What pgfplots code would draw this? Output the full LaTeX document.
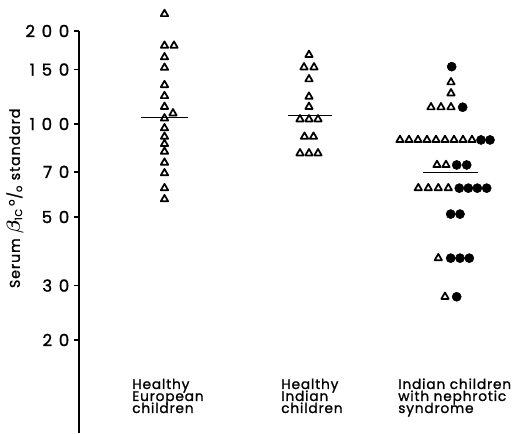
\documentclass[border=0pt]{standalone}
\usepackage{amsmath}
\usepackage{pgfplots}
\pgfplotsset{compat=1.18}
\usepackage{fontspec}
\setmainfont{Poppins}[FakeBold=1.3, LetterSpace=6]
\begin{document}
\begin{tikzpicture}[x=1pt,y=1pt]
\useasboundingbox (-59.25,-0.75) rectangle (335.25,324.75);
\begin{axis}[
  at={(0,0)}, anchor=south west,
  scale only axis, width=335.25pt, height=301.5pt,
  xmin=79, xmax=526, ymin=10, ymax=200,
  ymode=log,
  axis x line=none, axis y line=left,
  axis line style={-, line width=1.5pt},
  ytick={20,30,50,70,100,150,200},
  yticklabels={20,30,50,70,100,150,200},
  minor ytick={},
  tick align=outside, major tick length=3.75pt,
  tick style={line width=1.1pt, black},
  /pgf/number format/assume math mode=true,
  yticklabel style={font=\fontsize{12.5}{12.5}\selectfont\addfontfeature{LetterSpace=40}},
  clip=false,
  tri/.style={only marks, mark=triangle, mark size=3.2pt, black, line width=1.3pt, mark options={line join=round}},
  dot/.style={only marks, mark=*, mark size=3.4pt, black, mark options={fill=black, line width=0.4pt}},
]
% Healthy European children
\addplot[tri] coordinates {
(164.5,227) (164.5,179.3) (174,179.3) (164.5,164.5) (164.5,152.1) (164.5,133.7)
(164.5,123.2) (164.5,113.7) (173,108.3) (164.5,104.3) (164.5,96.9) (164.5,91.0)
(164.5,86.2) (164.5,81.4) (164.5,75.0) (164.5,69.3) (164.5,62.0) (164.5,57.1)};
\addplot[black, line width=1pt] coordinates {(141,104.8) (188,104.8)};
% Healthy Indian children
\addplot[tri] coordinates {
(309,167.3) (304,152.6) (314,152.6) (309,139.6) (309,122.6) (309,113.7)
(300,103.6) (309,103.6) (318,103.6) (304.5,91.0) (313.5,91.0)
(300,80.4) (309,80.4) (318,80.4)};
\addplot[black, line width=1pt] coordinates {(288,106.5) (332,106.5)};
% Indian children with nephrotic syndrome
\addplot[tri] coordinates {
(451,136.5) (451,125.7) (431,113.3) (441,113.3) (451,113.3)
(400,88.8) (409,88.8) (418,88.8) (427,88.8) (436,88.8) (445,88.8) (454,88.8) (463,88.8) (472,88.8)
(437,73.7) (446,73.7)
(418.3,62.0) (428.3,62.0) (438.3,62.0) (448.3,62.0)
(438.3,36.8) (445,27.6)};
\addplot[dot] coordinates {
(451.7,153.3) (462.7,113.3) (481,88.8) (490,88.8) (456.7,73.7) (466.7,73.7)
(459.3,62.0) (468.3,62.0) (477.3,62.0) (486.7,62.0)
(450.7,51.1) (460,51.1) (450.7,36.8) (460,36.8) (469.3,36.8) (456.7,27.6)};
\addplot[black, line width=1pt] coordinates {(423,69.8) (478,69.8)};
\end{axis}
\node[rotate=90, font=\fontsize{10.7}{10.7}\selectfont] at (-48,176) {Serum \scalebox{1.3}{$\boldsymbol{\beta}$}\textsubscript{1C}\,\textsuperscript{o}/\textsubscript{o} standard};
\begin{scope}[every node/.style={anchor=base west, inner sep=0pt, text height=6.5pt, text depth=1.5pt, font=\fontsize{10.3}{10.3}\selectfont}]
\node at (39.75,33) {Healthy};
\node at (39.75,24) {European};
\node at (39.75,15) {children};
\node at (151.5,33) {Healthy};
\node at (151.5,24) {Indian};
\node at (151.5,15) {children};
\node at (239.25,33) {Indian children};
\node at (239.25,24) {with nephrotic};
\node at (239.25,15) {syndrome};
\end{scope}
\end{tikzpicture}
\end{document}
